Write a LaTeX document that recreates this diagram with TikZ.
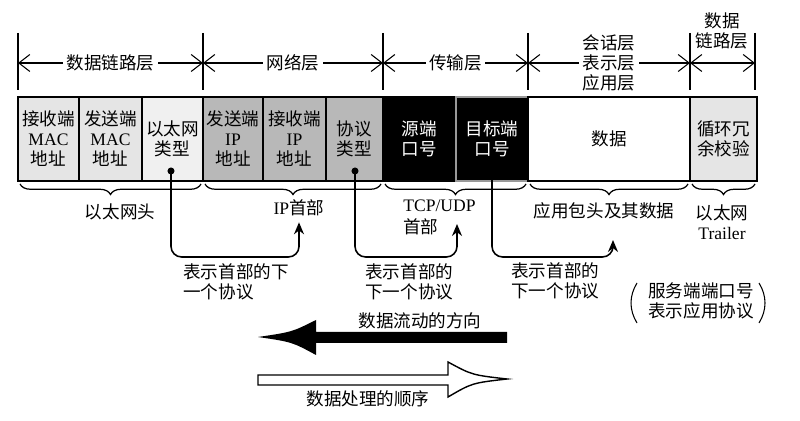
\documentclass[tikz,border=0pt]{standalone}
\usepackage{fontspec}
\setmainfont{Noto Sans CJK SC}
\newfontfamily\lat{Liberation Serif}
\usetikzlibrary{arrows.meta, decorations.pathreplacing, calc}
\definecolor{linkgray}{gray}{0.9}
\definecolor{netgray}{gray}{0.72}

\tikzset{
  field/.style={draw=black, line width=0.9pt},
  fieldtext/.style={align=center, inner sep=1pt},
  layerline/.style={{Straight Barb[length=2.2mm,width=3.4mm]}-{Straight Barb[length=2.2mm,width=3.4mm]}, line width=0.6pt},
  layertext/.style={fill=white, inner sep=2pt, align=center},
  tick/.style={line width=0.7pt},
  hdrbrace/.style={decorate, decoration={brace, mirror, amplitude=6pt}, line width=0.7pt},
  nextproto/.style={-{Stealth[length=2.4mm,width=2mm]}, rounded corners=6pt, line width=0.9pt},
  note/.style={align=left, inner sep=0pt}
}

\begin{document}
\begin{tikzpicture}[x=0.02cm, y=-0.02cm, font=\fontsize{10}{11.4}\selectfont]
  \useasboundingbox (0,0) rectangle (800,421);

  % layer ticks and arrows
  \foreach \x in {18,203,383,528,690,755}
    \draw[tick] (\x,33) -- (\x,90);
  \draw[layerline] (18,63) -- (203,63) node[midway, layertext] (dll) {数据链路层};
  \draw[layerline] (203,63) -- (383,63) node[midway, layertext] (netl) {网络层};
  \draw[layerline] (383,63) -- (528,63) node[midway, layertext] (trl) {传输层};
  \draw[layerline] (528,63) -- (690,63) node[midway, layertext] (appl) {会话层\\表示层\\应用层};
  \draw[layerline] (690,63) -- (755,63);
  \node[align=center, inner sep=0pt] (dll2) at (722,31) {数据\\链路层};

  % header fields
  \draw[field, fill=linkgray] (18,97) rectangle (79,181) node[midway, fieldtext] (dstmac) {接收端\\{\lat MAC}\\地址};
  \draw[field, fill=linkgray] (79,97) rectangle (142,181) node[midway, fieldtext] (srcmac) {发送端\\{\lat MAC}\\地址};
  \draw[field, fill=linkgray!60] (142,97) rectangle (203,181) node[midway, fieldtext] (ethtype) {以太网\\类型};
  \draw[field, fill=netgray] (203,97) rectangle (263,181) node[midway, fieldtext] (srcip) {发送端\\{\lat IP}\\地址};
  \draw[field, fill=netgray] (263,97) rectangle (326,181) node[midway, fieldtext] (dstip) {接收端\\{\lat IP}\\地址};
  \draw[field, fill=netgray] (326,97) rectangle (383,181) node[midway, fieldtext] (proto) {协议\\类型};
  \draw[field, fill=black] (383,97) rectangle (456,181) node[midway, fieldtext, text=white] (srcport) {源端\\口号};
  \draw[field, fill=black, draw=white!60!black] (456,97) rectangle (528,181) node[midway, fieldtext, text=white] (dstport) {目标端\\口号};
  \draw[field, fill=white] (528,97) rectangle (690,181) node[midway, fieldtext] (data) {数据};
  \draw[field, fill=linkgray] (690,97) rectangle (757,181) node[midway, fieldtext] (fcs) {循环冗\\余校验};

  % braces under the fields
  \draw[hdrbrace] (20,184) -- (201,184);
  \draw[hdrbrace] (205,184) -- (381,184);
  \draw[hdrbrace] (385,184) -- (526,184);
  \draw[hdrbrace] (530,184) -- (688,184);
  \draw[hdrbrace] (692,184) -- (755,184);
  \node (ethhdr) at (120,212) {以太网头};
  \node (iphdr) at (299,208) {{\lat IP}首部};
  \node[note, anchor=west] (tcphdr) at (403,217) {{\lat TCP/UDP}\\[1pt]首部};
  \node (apphdr) at (604,211) {应用包头及其数据};
  \node[align=center] (trailer) at (722,222) {以太网\\{\lat Trailer}};

  % next protocol connectors
  \coordinate (d1) at (171,171);
  \coordinate (d2) at (355,171);
  \coordinate (d3) at (492,171);
  \coordinate (a2) at (457,224);
  \coordinate (a3) at (613,240);
  \fill (d1) circle[radius=2pt];
  \fill (d2) circle[radius=2pt];
  \draw[nextproto] (d1) -- ++(0,86) -| (iphdr.south);
  \draw[nextproto] (d2) -- ++(0,86) -| (a2);
  \draw[nextproto] (d3) -- ++(0,86) -| (a3);
  \node[note, anchor=west] (note1) at (183,282) {表示首部的下\\一个协议};
  \node[note, anchor=west] (note2) at (365,282) {表示首部的\\下一个协议};
  \node[note, anchor=west] (note3) at (511,281) {表示首部的\\下一个协议};
  \node[note, anchor=west] (svc) at (648,301) {服务端端口号\\表示应用协议};
  \draw[line width=0.6pt] (637,283) .. controls (629,296) and (629,310) .. (637,323);
  \draw[line width=0.6pt] (759,283) .. controls (767,296) and (767,310) .. (759,323);

  % direction arrows
  \fill (507,332) -- (316,332) -- (316,320) .. controls (292,332) .. (258,337)
        .. controls (292,342) .. (316,355) -- (316,343) -- (507,343) -- cycle;
  \node (flow) at (420,321) {数据流动的方向};
  \draw[fill=white, line width=0.8pt] (258,375) -- (448,375) -- (448,362) .. controls (472,375) .. (507,379)
        .. controls (472,383) .. (448,397) -- (448,385) -- (258,385) -- cycle;
  \node (order) at (368,399) {数据处理的顺序};
\end{tikzpicture}
\end{document}
